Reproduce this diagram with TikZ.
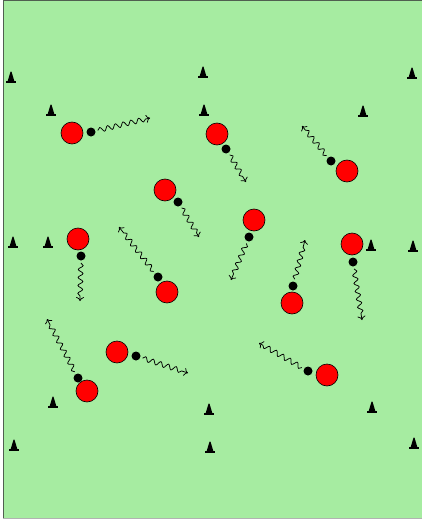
\documentclass[tikz,border=0pt]{standalone}
\usetikzlibrary{decorations.pathmorphing,arrows.meta}
\definecolor{field}{RGB}{166,236,161}
\definecolor{fieldline}{RGB}{80,95,80}
\definecolor{playerred}{RGB}{255,0,0}
\tikzset{
  player/.style={circle,draw=black,line width=0.6pt,fill=playerred,minimum size=22pt,inner sep=0pt},
  ball/.style={circle,fill=black,minimum size=9pt,inner sep=0pt,outer sep=2.5pt},
  dribble/.style={-{To[length=4pt,width=8pt]},line width=0.75pt,decorate,
    decoration={snake,amplitude=2.4pt,segment length=8pt,post length=4pt}},
  conemark/.pic={
    \fill[black] (-3.3,2) -- (-0.6,11) -- (0,11.5) -- (0.6,11) -- (3.3,2) -- cycle;
    \fill[black] (-5,0) rectangle (5,2.2);
  }
}
\begin{document}
\begin{tikzpicture}[x=1pt,y=-1pt]
\useasboundingbox (0,0) rectangle (421,519);
\fill[field] (3,1) rectangle (425,518);
\draw[fieldline,line width=1pt] (425,1) -- (3,1) -- (3,518);
\draw[gray!60,line width=1pt] (3,518) -- (425,518);
% cones
\foreach \cx/\cy [count=\i] in {11/83,51/116,203/78,204/116,412/79,363/117,
  13/248,48/248,371/251,413/252,53/408,209/415,372/413,14/451,210/453,414/449}
  \pic[yscale=-1] (cone\i) at (\cx,\cy) {conemark};
% players, balls, arrow ends
\node[player] (p1) at (72,133) {};  \node[ball] (b1) at (91,132) {};  \coordinate (e1) at (150,118);
\node[player] (p2) at (217,134) {}; \node[ball] (b2) at (226,149) {}; \coordinate (e2) at (246,182);
\node[player] (p3) at (347,171) {}; \node[ball] (b3) at (331,161) {}; \coordinate (e3) at (302,126);
\node[player] (p4) at (165,190) {}; \node[ball] (b4) at (178,202) {}; \coordinate (e4) at (199,237);
\node[player] (p5) at (254,220) {}; \node[ball] (b5) at (249,237) {}; \coordinate (e5) at (231,280);
\node[player] (p6) at (78,239) {};  \node[ball] (b6) at (81,256) {};  \coordinate (e6) at (80,301);
\node[player] (p7) at (167,292) {}; \node[ball] (b7) at (158,277) {}; \coordinate (e7) at (119,227);
\node[player] (p8) at (352,244) {}; \node[ball] (b8) at (353,262) {}; \coordinate (e8) at (362,320);
\node[player] (p9) at (292,303) {}; \node[ball] (b9) at (293,286) {}; \coordinate (e9) at (305,240);
\node[player] (p10) at (117,352) {}; \node[ball] (b10) at (136,356) {}; \coordinate (e10) at (188,373);
\node[player] (p11) at (327,375) {}; \node[ball] (b11) at (308,371) {}; \coordinate (e11) at (259,343);
\node[player] (p12) at (87,391) {};  \node[ball] (b12) at (78,378) {};  \coordinate (e12) at (47,319);
\foreach \i in {1,...,12} \draw[dribble] (b\i) -- (e\i);
\end{tikzpicture}
\end{document}
